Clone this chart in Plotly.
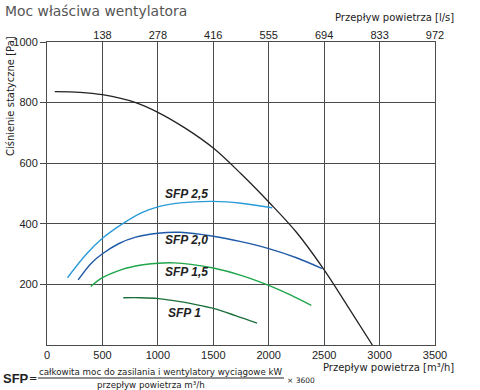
import plotly.graph_objects as go

# ---- data ----
fan_x = [70, 300, 500, 800, 1000, 1250, 1500, 1750, 2000, 2250, 2500, 2700, 2935]
fan_y = [836, 834, 826, 800, 768, 715, 650, 565, 472, 372, 248, 135, 0]

sfp25_x = [185, 350, 500, 673, 850, 1000, 1200, 1500, 1750, 2031]
sfp25_y = [222, 298, 352, 398, 436, 456, 469, 474, 468, 453]

sfp20_x = [281, 400, 500, 650, 800, 1000, 1200, 1500, 1750, 2000, 2250, 2483]
sfp20_y = [215, 270, 301, 335, 356, 369, 372, 359, 341, 318, 288, 252]

sfp15_x = [395, 500, 673, 850, 1000, 1150, 1300, 1500, 1750, 2000, 2200, 2384]
sfp15_y = [193, 222, 249, 264, 270, 271, 266, 254, 230, 197, 165, 131]

sfp10_x = [688, 850, 1005, 1200, 1400, 1509, 1700, 1895]
sfp10_y = [156, 156, 153, 143, 129, 120, 97, 72]

x_ticks = [0, 500, 1000, 1500, 2000, 2500, 3000, 3500]
y_ticks = [200, 400, 600, 800, 1000]
top_ticks = [500, 1000, 1500, 2000, 2500, 3000, 3500]
top_labels = ["138", "278", "416", "555", "694", "833", "972"]

labels = ["SFP 2,5", "SFP 2,0", "SFP 1,5", "SFP 1"]
label_x = [1255, 1262, 1255, 1237]
label_y = [497, 345, 240, 107]

# ---- layout geometry ----
W, H = 480, 390
ML, MR, MT, MB = 47, 45, 42, 45


def px(x):
    return (x - ML) / (W - ML - MR)


def py(y):
    return (H - MB - y) / (H - MT - MB)


fig = go.Figure()
series = [
    (fan_x, fan_y, "#222222", 1.3),
    (sfp25_x, sfp25_y, "#2a9ad8", 1.4),
    (sfp20_x, sfp20_y, "#1f5aa8", 1.4),
    (sfp15_x, sfp15_y, "#1fa64a", 1.4),
    (sfp10_x, sfp10_y, "#1a7038", 1.4),
]
for xs, ys, c, w in series:
    fig.add_trace(go.Scatter(x=xs, y=ys, mode="lines",
                             line=dict(color=c, width=w, shape="spline", smoothing=1.0),
                             showlegend=False, hoverinfo="skip"))

# dummy trace for the top (l/s) axis
fig.add_trace(go.Scatter(x=[0, 3500], y=[None, None], xaxis="x2", mode="lines",
                         showlegend=False, hoverinfo="skip"))

for t, lx, ly in zip(labels, label_x, label_y):
    fig.add_annotation(x=lx, y=ly, text="<b><i>" + t + "</i></b>", showarrow=False,
                       font=dict(family="Liberation Sans, Arial", size=12, color="#222222"))

gridc = "#4a4a4a"
tickf = dict(family="Liberation Sans, Arial", size=11, color="#222222")
fig.update_layout(
    width=W, height=H,
    margin=dict(l=ML, r=MR, t=MT, b=MB),
    plot_bgcolor="white", paper_bgcolor="white",
    xaxis=dict(range=[0, 3500], tickvals=x_ticks, showgrid=True, gridcolor=gridc, gridwidth=1,
               showline=True, linecolor=gridc, linewidth=1, mirror=True, zeroline=False,
               ticks="", tickfont=tickf),
    xaxis2=dict(range=[0, 3500], overlaying="x", side="top", tickvals=top_ticks, ticktext=top_labels,
                showgrid=False, zeroline=False, ticks="", showline=False, tickfont=tickf),
    yaxis=dict(range=[0, 1000], tickvals=y_ticks, showgrid=True, gridcolor=gridc, gridwidth=1,
               showline=True, linecolor=gridc, linewidth=1, mirror=True, zeroline=False,
               ticks="outside", ticklen=6, tickcolor=gridc, tickfont=tickf),
)

txtfont = "DejaVu Sans"
dark = "#222222"
fig.add_annotation(xref="paper", yref="paper", x=px(3), y=py(11), xanchor="left", yanchor="middle",
                   text="Moc właściwa wentylatora", showarrow=False,
                   font=dict(family=txtfont, size=13.9, color="#555555"))
fig.add_annotation(xref="paper", yref="paper", x=px(456), y=py(17), xanchor="right", yanchor="middle",
                   text="Przepływ powietrza [l/s]", showarrow=False,
                   font=dict(family=txtfont, size=10, color=dark))
fig.add_annotation(xref="paper", yref="paper", x=px(456), y=py(367), xanchor="right", yanchor="middle",
                   text="Przepływ powietrza [m³/h]", showarrow=False,
                   font=dict(family=txtfont, size=10, color=dark))
fig.add_annotation(xref="paper", yref="paper", x=px(10), y=py(96), xanchor="center", yanchor="middle",
                   text="Ciśnienie statyczne [Pa]", showarrow=False, textangle=-90,
                   font=dict(family=txtfont, size=10, color=dark))

# formula
fig.add_annotation(xref="paper", yref="paper", x=px(1), y=py(378), xanchor="left", yanchor="middle",
                   text="<b>SFP</b>", showarrow=False,
                   font=dict(family="Liberation Sans, Arial", size=13, color=dark))
fig.add_annotation(xref="paper", yref="paper", x=px(27), y=py(378), xanchor="left", yanchor="middle",
                   text="=", showarrow=False, font=dict(family=txtfont, size=10, color=dark))
fig.add_annotation(xref="paper", yref="paper", x=px(161), y=py(372), xanchor="center", yanchor="middle",
                   text="całkowita moc do zasilania i wentylatory wyciągowe kW", showarrow=False,
                   font=dict(family=txtfont, size=8.7, color=dark))
fig.add_annotation(xref="paper", yref="paper", x=px(151), y=py(384.5), xanchor="center", yanchor="middle",
                   text="przepływ powietrza m³/h", showarrow=False,
                   font=dict(family=txtfont, size=8.7, color=dark))
fig.add_annotation(xref="paper", yref="paper", x=px(285), y=py(380), xanchor="left", yanchor="middle",
                   text="× 3600", showarrow=False,
                   font=dict(family=txtfont, size=7.5, color=dark))
fig.add_shape(type="line", xref="paper", yref="paper", x0=px(38), x1=px(284), y0=py(378), y1=py(378),
              line=dict(color=dark, width=1))

fig.write_html("out.html", config={"displayModeBar": False},
               post_script="document.body.style.margin='0';document.body.style.overflow='hidden';")
